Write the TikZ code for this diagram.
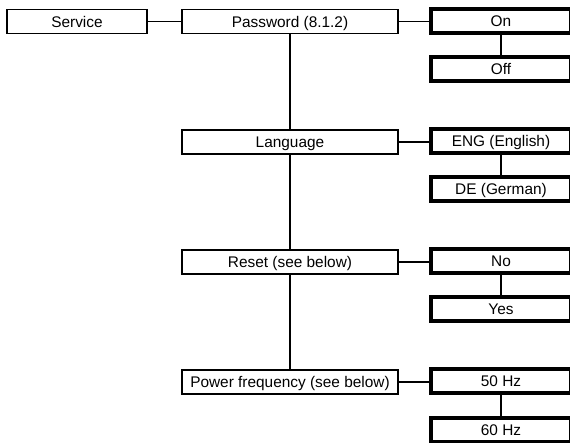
\documentclass[tikz,border=0pt]{standalone}
\usepackage{fontspec}
\setmainfont{Liberation Sans}
\begin{document}
\begin{tikzpicture}[x=1pt,y=-1pt,
  every node/.style={inner sep=0pt,outer sep=0pt,font=\fontsize{15.4}{18}\selectfont,text height=11pt,text depth=0pt},
  menubox/.style={draw,line width=1.3pt,minimum height=24pt},
  optbox/.style={draw,line width=3.6pt,minimum width=140pt,minimum height=24pt},
  thinlink/.style={line width=1.3pt},
  thicklink/.style={line width=2pt}]
\useasboundingbox[fill=white] (0,0) rectangle (570,442);
% left column
\node[menubox,minimum width=140pt] (svc) at (77,21.5) {Service};
\node[menubox,minimum width=216pt] (pw) at (290,21.5) {Password (8.1.2)};
\node[menubox,minimum width=216pt] (lang) at (290,142) {Language};
\node[menubox,minimum width=216pt] (reset) at (290,262) {Reset (see below)};
\node[menubox,minimum width=216pt] (pf) at (290,382) {Power frequency (see below)};
% option boxes
\node[optbox] (on) at (501,21) {On};
\node[optbox] (off) at (501,69) {Off};
\node[optbox] (eng) at (501,141) {ENG (English)};
\node[optbox] (de) at (501,189) {DE (German)};
\node[optbox] (no) at (501,261) {No};
\node[optbox] (yes) at (501,309) {Yes};
\node[optbox] (hz50) at (501,381) {50 Hz};
\node[optbox] (hz60) at (501,430) {60 Hz};
% connectors
\draw[thinlink] (svc.east) -- (pw.west);
\draw[thinlink] (pw.east) -- (pw.east -| on.west);
\draw[thinlink] (lang.east) -- (lang.east -| eng.west);
\draw[thinlink] (reset.east) -- (reset.east -| no.west);
\draw[thinlink] (pf.east) -- (pf.east -| hz50.west);
\draw[thicklink] (pw.south) -- (lang.north);
\draw[thicklink] (lang.south) -- (reset.north);
\draw[thicklink] (reset.south) -- (pf.north);
\draw[thicklink] (on.south) -- (off.north);
\draw[thicklink] (eng.south) -- (de.north);
\draw[thicklink] (no.south) -- (yes.north);
\draw[thicklink] (hz50.south) -- (hz60.north);
\end{tikzpicture}
\end{document}
